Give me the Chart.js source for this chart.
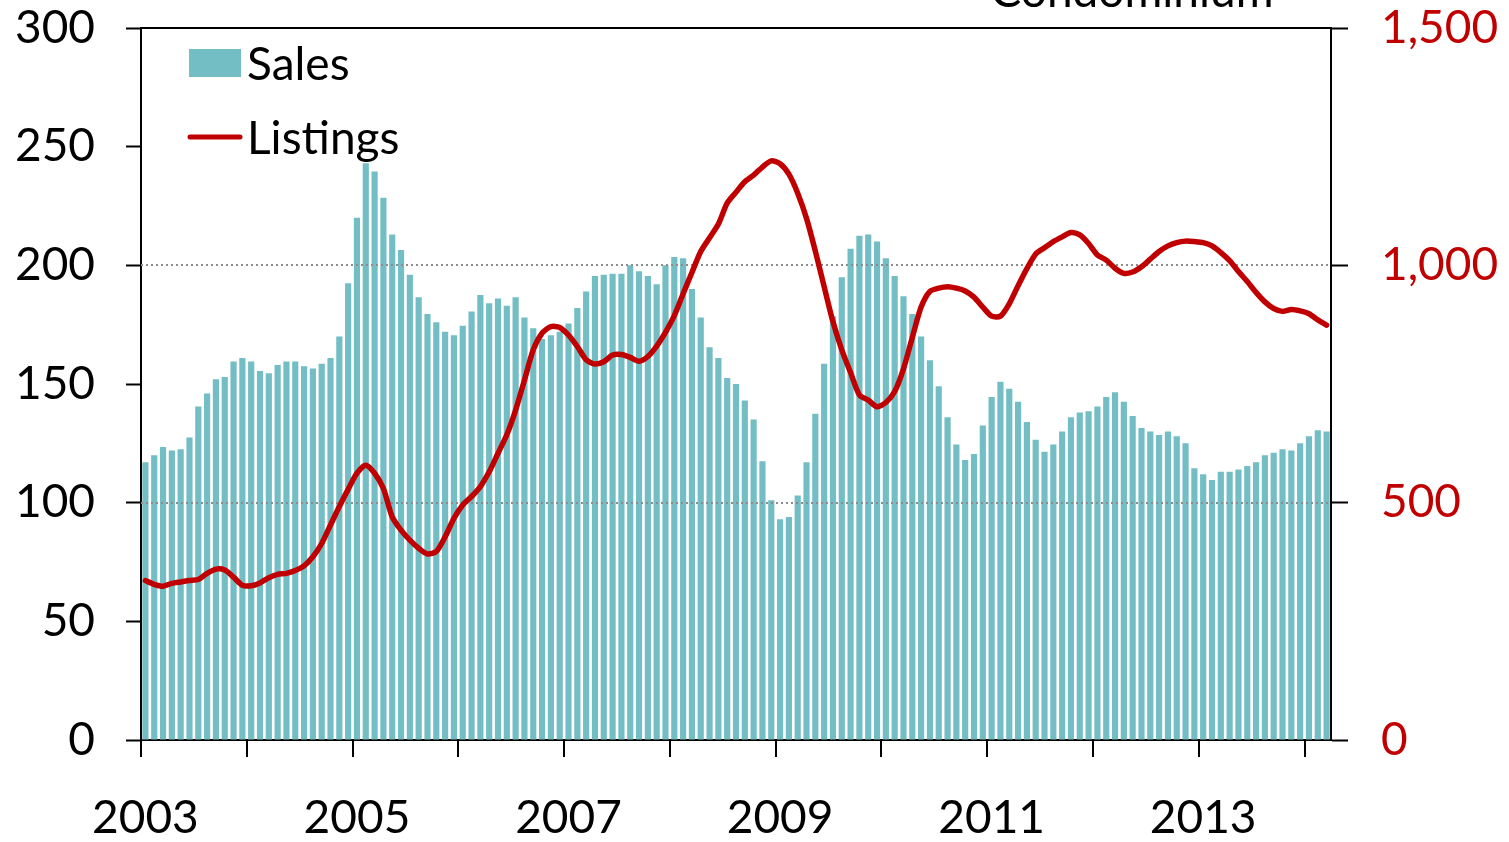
<!DOCTYPE html>
<html>
<head>
<meta charset="utf-8">
<script src="https://cdn.jsdelivr.net/npm/chart.js@4.4.1/dist/chart.umd.min.js"></script>
<style>
  html, body { margin: 0; padding: 0; background: #fff; }
  #wrap { width: 1509px; height: 842px; }
</style>
</head>
<body>
<div id="wrap"><canvas id="chart"></canvas></div>
<script>
const years = [2003, 2004, 2005, 2006, 2007, 2008, 2009, 2010, 2011, 2012, 2013, 2014];
const monthNames = ['Jan', 'Feb', 'Mar', 'Apr', 'May', 'Jun', 'Jul', 'Aug', 'Sep', 'Oct', 'Nov', 'Dec'];
const labelledYears = ['2003', '2005', '2007', '2009', '2011', '2013'];

// monthly sales (left axis)
const sales = [
  117, 120, 123.5, 122, 122.5, 127.5, 140.5, 146, 152, 153, 159.5, 161,          // 2003
  159.5, 155.5, 154.5, 158, 159.5, 159.5, 157.5, 156.5, 158.5, 161, 170, 192.5,  // 2004
  220, 243, 239.5, 228.5, 213, 206.5, 196, 186.5, 179.5, 176, 172, 170.5,        // 2005
  174.5, 180.5, 187.5, 184, 186, 183, 186.5, 178, 173.5, 169, 170.5, 172,        // 2006
  175.5, 182, 189, 195.5, 196, 196.5, 196.5, 200, 197.5, 195.5, 192, 200,        // 2007
  203.5, 203, 190, 178, 165.5, 161, 152.5, 150, 143, 135, 117.5, 101,            // 2008
  93, 94, 103, 117, 137.5, 158.5, 178.5, 195, 207, 212.5, 213, 210,              // 2009
  203, 195.5, 187, 179.5, 170, 160, 149, 136, 124.5, 118, 120.5, 132.5,          // 2010
  144.5, 151, 148, 142.5, 134, 126.5, 121.5, 124.5, 130, 136, 138, 138.5,        // 2011
  140.5, 144.5, 146.5, 142.5, 136.5, 131.5, 130, 128.5, 130, 128, 125, 114.5,    // 2012
  112, 109.5, 113, 113, 114, 115.5, 117, 120, 121, 122.5, 122, 125,              // 2013
  128, 130.5, 130                                                                // 2014
];

// active listings (right axis)
const listings = [
  336, 328, 324, 330, 333, 336, 338, 351, 360, 358, 343, 326,
  325, 331, 342, 349, 351, 357, 367, 386, 414, 453, 492, 528,
  562, 579, 562, 530, 470, 442, 421, 404, 392, 397, 428, 467,
  495, 513, 534, 565, 604, 643, 695, 758, 822, 857, 871, 869,
  853, 829, 801, 792, 797, 811, 812, 806, 798, 808, 830, 859,
  894, 940, 985, 1029, 1058, 1087, 1131, 1154, 1176, 1190, 1207, 1220,
  1214, 1192, 1152, 1099, 1030, 955, 881, 822, 774, 727, 716, 702,
  711, 734, 782, 848, 912, 945, 952, 955, 952, 946, 933, 912,
  893, 893, 919, 957, 993, 1024, 1037, 1050, 1060, 1069, 1064, 1046,
  1022, 1011, 994, 983, 986, 997, 1013, 1029, 1041, 1048, 1051, 1050,
  1048, 1041, 1027, 1010, 987, 966, 943, 923, 909, 903, 907, 904,
  898, 885, 874
];

const salesTicks = { min: 0, max: 300, step: 50 };
const listingTicks = { min: 0, max: 1500, step: 500 };
const dottedAt = [500, 1000];

const categories = [];
years.forEach(y => monthNames.forEach(m => categories.push(m + ' ' + y)));
categories.length = sales.length;

const FONT = 'Lato, "Open Sans", sans-serif';
const RED = '#c00000';
const TEAL = '#72bec4';
const font = { family: FONT, size: 46 };

// pin the plot box so label padding does not push it around
const fixBox = (w, h) => s => {
  if (w) s.width = w;
  if (h) s.height = h;
  s.paddingTop = 0;
  s.paddingBottom = 0;
  s.paddingLeft = 0;
  s.paddingRight = 0;
};

const overlay = {
  id: 'overlay',
  afterDatasetDraw(chart, args) {
    if (args.meta.type !== 'bar') return;
    const { ctx, chartArea } = chart;
    const y1 = chart.scales.y1;
    ctx.save();
    ctx.strokeStyle = '#8c8c8c';
    ctx.lineWidth = 2;
    ctx.setLineDash([2, 3]);
    dottedAt.forEach(v => {
      const py = Math.round(y1.getPixelForValue(v));
      ctx.beginPath();
      ctx.moveTo(chartArea.left, py);
      ctx.lineTo(chartArea.right, py);
      ctx.stroke();
    });
    ctx.restore();
  },
  afterDraw(chart) {
    const { ctx, chartArea } = chart;
    ctx.save();
    // top frame
    ctx.strokeStyle = '#000';
    ctx.lineWidth = 2;
    ctx.beginPath();
    ctx.moveTo(chartArea.left, chartArea.top);
    ctx.lineTo(chartArea.right, chartArea.top);
    ctx.stroke();

    // legend
    ctx.fillStyle = TEAL;
    ctx.fillRect(189, 49, 52, 28);
    ctx.strokeStyle = RED;
    ctx.lineWidth = 5;
    ctx.lineCap = 'round';
    ctx.beginPath();
    ctx.moveTo(190, 137);
    ctx.lineTo(240, 137);
    ctx.stroke();
    ctx.fillStyle = '#000';
    ctx.font = '46px ' + FONT;
    ctx.textBaseline = 'alphabetic';
    ctx.textAlign = 'left';
    ctx.fillText('Sales', 247, 80);
    ctx.fillText('Listings', 247, 154);

    // title, mostly cut off at the top
    ctx.textAlign = 'center';
    ctx.fillText('Condominium', 1132, 7);
    ctx.restore();
  }
};

const ctx = document.getElementById('chart').getContext('2d');
new Chart(ctx, {
  data: {
    labels: categories,
    datasets: [
      {
        type: 'line',
        label: 'Listings',
        data: listings,
        yAxisID: 'y1',
        borderColor: RED,
        borderWidth: 5.5,
        pointRadius: 0,
        tension: 0.25,
        borderCapStyle: 'round',
        borderJoinStyle: 'round',
        order: 0,
      },
      {
        type: 'bar',
        label: 'Sales',
        data: sales,
        yAxisID: 'y',
        backgroundColor: TEAL,
        barPercentage: 0.7,
        categoryPercentage: 1,
        order: 1,
      },
    ],
  },
  options: {
    responsive: true,
    maintainAspectRatio: false,
    animation: false,
    layout: { padding: { top: 28, left: 0, right: 0, bottom: 0 } },
    plugins: { legend: { display: false }, tooltip: { enabled: false } },
    scales: {
      x: {
        type: 'category',
        offset: true,
        grid: {
          offset: true,
          drawOnChartArea: false,
          tickLength: 17,
          lineWidth: 2,
          tickWidth: 2,
          color: c => (c.index !== undefined && c.index % 12 === 0) ? '#000' : 'rgba(0,0,0,0)',
        },
        border: { color: '#000', width: 2 },
        ticks: {
          autoSkip: false,
          maxRotation: 0,
          padding: 34,
          color: '#000',
          font: font,
          callback: function (value, index) {
            const parts = categories[index].split(' ');
            return (parts[0] === 'Jan' && labelledYears.includes(parts[1])) ? parts[1] : '';
          },
        },
        afterFit: fixBox(0, 102),
      },
      y: {
        position: 'left',
        min: salesTicks.min,
        max: salesTicks.max,
        ticks: { stepSize: salesTicks.step, padding: 31, color: '#000', font: font },
        grid: { drawOnChartArea: false, tickLength: 15, tickWidth: 2, color: '#000' },
        border: { color: '#000', width: 2 },
        afterFit: fixBox(141, 0),
      },
      y1: {
        position: 'right',
        min: listingTicks.min,
        max: listingTicks.max,
        ticks: {
          stepSize: listingTicks.step,
          padding: 33,
          color: RED,
          font: font,
          callback: v => v.toLocaleString('en-US'),
        },
        grid: { drawOnChartArea: false, tickLength: 17, tickWidth: 2, color: '#000' },
        border: { color: '#000', width: 2 },
        afterFit: fixBox(178, 0),
      },
    },
  },
  plugins: [overlay],
});
</script>
</body>
</html>
